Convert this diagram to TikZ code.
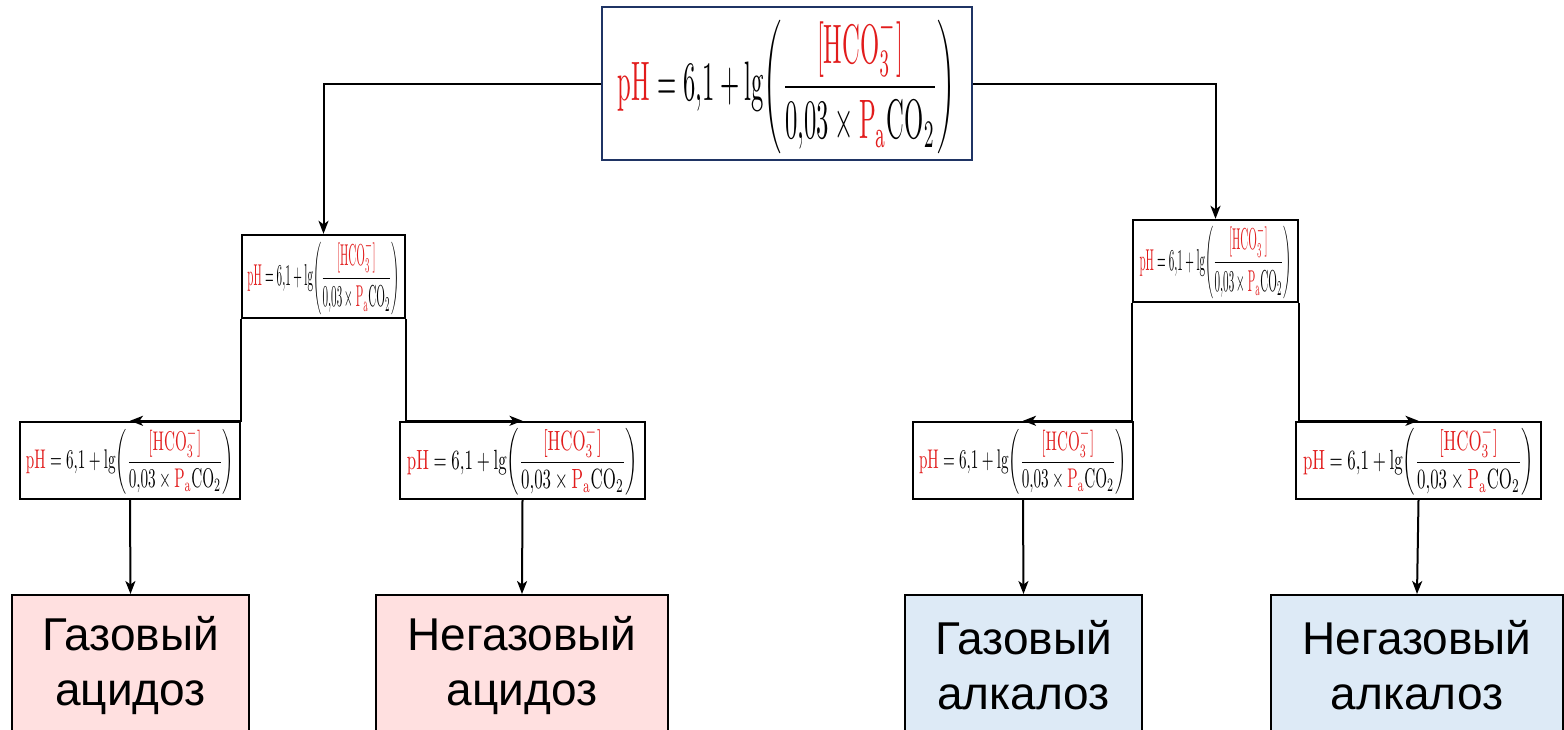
\documentclass[tikz,border=0pt]{standalone}
\usepackage{fontspec}
\usepackage{amsmath}
\usetikzlibrary{arrows.meta}
\newfontfamily\cyrfont{Liberation Sans}
\definecolor{fred}{RGB}{226,28,28}
\definecolor{navyb}{RGB}{31,52,100}
\definecolor{pinkf}{RGB}{255,224,224}
\definecolor{bluef}{RGB}{221,234,246}
\newcommand{\phformula}{$\displaystyle \textcolor{fred}{\mathrm{pH}} = 6{,}1 + \lg\!\left(\frac{\textcolor{fred}{[\mathrm{HCO}_3^-]}}{0{,}03\times \textcolor{fred}{\mathrm{P}_{\mathrm{a}}}\mathrm{CO}_2}\right)$}
\begin{document}
\begin{tikzpicture}[x=1pt,y=-1pt,
  fbox/.style={draw=black,line width=2.4pt,fill=white,rectangle,inner sep=0pt},
  res/.style={draw=black,line width=2pt,rectangle,inner sep=0pt,font=\cyrfont\fontsize{46}{55}\selectfont,align=center},
  arr/.style={line width=2pt,-{Stealth[length=13pt,width=10pt,inset=3.5pt]}}]
\clip (0,0) rectangle (1564,729);
\useasboundingbox (0,0) rectangle (1564,729);
% top
\node[fbox,draw=navyb,line width=2.8pt,minimum width=370pt,minimum height=153pt] (top) at (787,83.5) {\resizebox*{338pt}{140pt}{\phformula}};
% middle
\node[fbox,minimum width=163pt,minimum height=83pt] (ml) at (323.5,276.5) {\resizebox*{152pt}{76pt}{\phformula}};
\node[fbox,minimum width=165pt,minimum height=82pt] (mr) at (1215.5,261) {\resizebox*{152pt}{76pt}{\phformula}};
% lower
\node[fbox,minimum width=220pt,minimum height=77pt] (ll) at (130,460.5) {\resizebox*{208pt}{68pt}{\phformula}};
\node[fbox,minimum width=245pt,minimum height=77pt] (lr) at (522.5,460.5) {\resizebox*{231pt}{70pt}{\phformula}};
\node[fbox,minimum width=220pt,minimum height=77pt] (rl) at (1023,460.5) {\resizebox*{208pt}{68pt}{\phformula}};
\node[fbox,minimum width=245pt,minimum height=77pt] (rr) at (1418.5,460.5) {\resizebox*{231pt}{70pt}{\phformula}};
% results
\node[res,fill=pinkf,minimum width=237pt,minimum height=140pt] (b1) at (130.5,665) {Газовый\\ацидоз};
\node[res,fill=pinkf,minimum width=292pt,minimum height=140pt] (b2) at (522,665) {Негазовый\\ацидоз};
\node[res,fill=bluef,minimum width=237pt,minimum height=140pt] (b3) at (1023.5,665) {Газовый\\алкалоз};
\node[res,fill=bluef,minimum width=292pt,minimum height=140pt] (b4) at (1417,665) {Негазовый\\алкалоз};
% connectors
\draw[arr] (top.west) -| (ml.north);
\draw[arr] (top.east) -| (mr.north);
\draw[arr] (ml.south west) |- (ll.north);
\draw[arr] (ml.south east) |- (lr.north);
\draw[arr] (mr.south west) |- (rl.north);
\draw[arr] (mr.south east) |- (rr.north);
\draw[arr] (ll.south) -- (b1.north);
\draw[arr] (lr.south) -- (b2.north);
\draw[arr] (rl.south) -- (b3.north);
\draw[arr] (rr.south) -- (b4.north);
\end{tikzpicture}
\end{document}
